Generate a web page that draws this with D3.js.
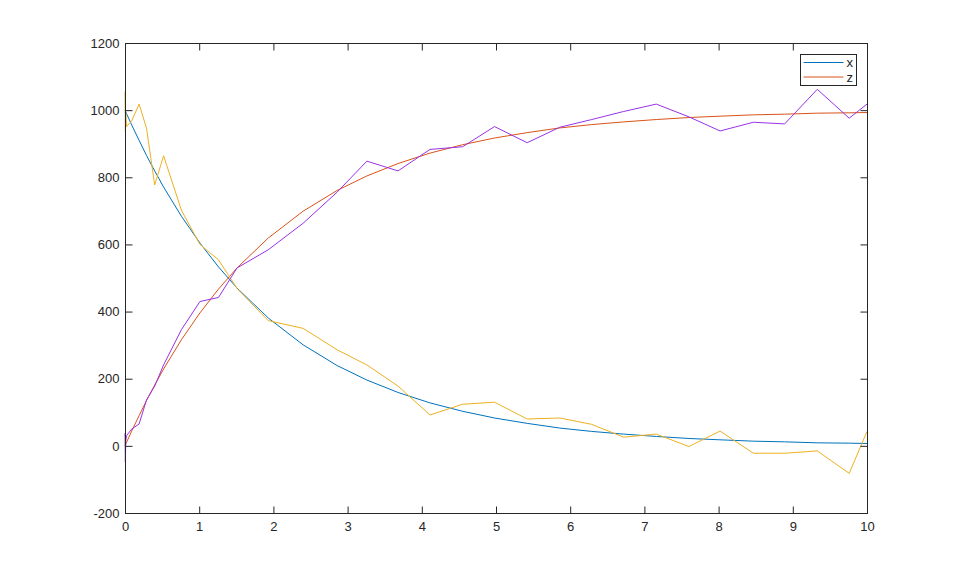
<!DOCTYPE html>
<html>
<head>
  <meta charset="utf-8" />
  <script src="https://cdnjs.cloudflare.com/ajax/libs/d3/7.8.5/d3.min.js"></script>
  <style>
    body { margin: 0; background: #fff; }
    text { font-family: "Liberation Sans", Arial, sans-serif; font-size: 13px; fill: #262626; }
  </style>
</head>
<body>
  <svg width="959" height="577"></svg>
  <script>
    // sample times and series
    var t = [0, 0.005, 0.01, 0.02, 0.09, 0.19, 0.29, 0.40, 0.52, 0.76, 1.01, 1.26, 1.51, 1.93,
             2.40, 2.86, 3.26, 3.68, 4.11, 4.55, 4.98, 5.42, 5.86, 6.29, 6.72, 7.16, 7.60,
             8.02, 8.47, 8.89, 9.33, 9.76, 10]
    var xVals = [1000, 998, 995, 990, 956, 910, 865, 819, 771, 684, 604, 533, 470, 381,
                 301, 239, 196, 159, 128, 103, 83, 67, 53, 43, 35, 28, 22,
                 18, 14, 12, 9, 8, 7]
    var zVals = [0, 2, 5, 10, 44, 90, 135, 181, 229, 316, 396, 467, 530, 619,
                 699, 761, 804, 841, 872, 897, 917, 933, 947, 957, 965, 972, 978,
                 982, 986, 988, 991, 992, 993]
    var xNoisy = [1055, 936, 990, 951, 968, 1018, 946, 777, 864, 702, 600, 554, 469, 373,
                  350, 286, 241, 178, 92, 124, 130, 80, 83, 64, 26, 35, -2,
                  44, -22, -22, -15, -82, 43]
    var zNoisy = [38, -48, 15, 30, 50, 65, 137, 178, 241, 346, 430, 442, 530, 584,
                  663, 756, 848, 819, 883, 891, 951, 903, 949, 972, 996, 1018, 980,
                  938, 964, 959, 1062, 976, 1018]
    var xTicks = [0, 1, 2, 3, 4, 5, 6, 7, 8, 9, 10]
    var yTicks = [-200, 0, 200, 400, 600, 800, 1000, 1200]
    var legendNames = ["x", "z"]

    var colors = { x: "#0072BD", z: "#D95319", xn: "#EDB120", zn: "#9932E8" }

    var svg = d3.select("svg")
    var plotL = 125, plotR = 867, plotT = 43, plotB = 513

    var xScale = d3.scaleLinear().domain([0, 10]).range([plotL, plotR])
    var yScale = d3.scaleLinear().domain([-200, 1200]).range([plotB, plotT])

    var line = d3.line()
                 .x((d, i) => xScale(t[i]))
                 .y(d => yScale(d))

    var series = [
      { v: xVals, c: colors.x },
      { v: zVals, c: colors.z },
      { v: xNoisy, c: colors.xn },
      { v: zNoisy, c: colors.zn }
    ]

    svg.selectAll("path.series")
      .data(series)
      .enter()
      .append("path")
        .attr("class", "series")
        .attr("fill", "none")
        .attr("stroke", d => d.c)
        .attr("stroke-width", 1)
        .attr("d", d => line(d.v))

    // axes, MATLAB style box with inward ticks
    var tl = 7
    var plain = d => String(d)
    svg.append("rect")
      .attr("x", plotL + 0.5).attr("y", plotT + 0.5)
      .attr("width", plotR - plotL).attr("height", plotB - plotT)
      .attr("fill", "none").attr("stroke", "#262626")

    svg.append("g")
      .attr("transform", `translate(0,${plotB + 0.5})`)
      .call(d3.axisBottom(xScale).tickValues(xTicks).tickSize(-tl).tickPadding(8).tickFormat(plain))
    svg.append("g")
      .attr("transform", `translate(0,${plotT + 0.5})`)
      .call(d3.axisTop(xScale).tickValues(xTicks).tickSize(-tl).tickFormat(""))
    svg.append("g")
      .attr("transform", `translate(${plotL + 0.5},0)`)
      .call(d3.axisLeft(yScale).tickValues(yTicks).tickSize(-tl).tickPadding(6).tickFormat(plain))
    svg.append("g")
      .attr("transform", `translate(${plotR + 0.5},0)`)
      .call(d3.axisRight(yScale).tickValues(yTicks).tickSize(-tl).tickFormat(""))

    svg.selectAll(".domain").remove()
    svg.selectAll(".tick line").attr("stroke", "#262626")
    svg.selectAll(".tick text").attr("font-size", 13).attr("font-family", "Liberation Sans, Arial, sans-serif").attr("fill", "#262626")

    // legend
    var lg = svg.append("g").attr("transform", "translate(800.5,54.5)")
    lg.append("rect")
      .attr("width", 56).attr("height", 31)
      .attr("fill", "#fff").attr("stroke", "#262626")
    legendNames.forEach(function (n, i) {
      var y = 8 + i * 14.5
      lg.append("line")
        .attr("x1", 3).attr("x2", 43).attr("y1", y).attr("y2", y)
        .attr("stroke", colors[n]).attr("stroke-width", 1)
      lg.append("text")
        .attr("x", 46).attr("y", y).attr("dy", "0.35em")
        .text(n)
    })
  </script>
</body>
</html>
